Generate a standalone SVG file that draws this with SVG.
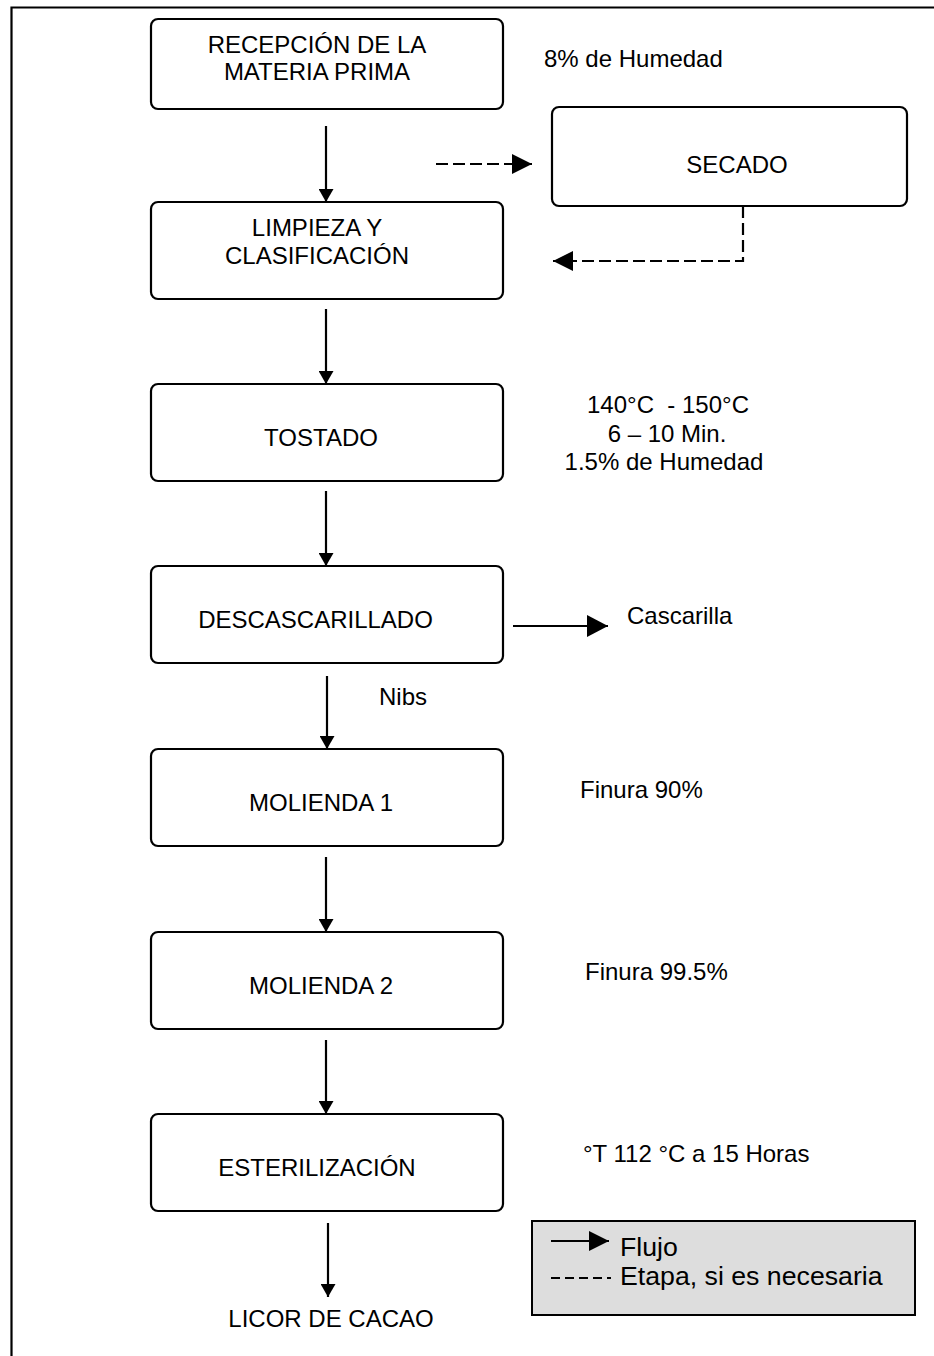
<svg xmlns="http://www.w3.org/2000/svg" width="934" height="1356" viewBox="0 0 934 1356">
<defs>
<style>
.box{fill:#fff;stroke:#000;stroke-width:2.2}
.t{font-family:"Liberation Sans",Arial,sans-serif;font-size:24px;fill:#000}
.lg{font-size:26.7px}
.c{text-anchor:middle}
.ln{stroke:#000;stroke-width:2.2;fill:none}
.dash{stroke:#000;stroke-width:2.2;fill:none;stroke-dasharray:12,5}
</style>
<marker id="ah" markerUnits="userSpaceOnUse" markerWidth="15" markerHeight="15" refX="13" refY="7.5" orient="auto">
<polygon points="0,0 13,7.5 0,15" fill="#000"/>
</marker>
<marker id="ahb" markerUnits="userSpaceOnUse" markerWidth="22" markerHeight="22" refX="21" refY="11" orient="auto">
<polygon points="0,0 21,11 0,22" fill="#000"/>
</marker>
<marker id="ahm" markerUnits="userSpaceOnUse" markerWidth="20" markerHeight="20" refX="20" refY="10" orient="auto">
<polygon points="0,0 20,10 0,20" fill="#000"/>
</marker>
</defs>
<rect x="0" y="0" width="934" height="1356" fill="#fff"/>
<path d="M11.5,1360 V7.5 H940" class="ln" stroke-width="2"/>

<g id="n-recepcion">
<rect class="box" x="151" y="19" width="352" height="90" rx="7"/>
<text class="t c" x="317" y="53">RECEPCIÓN DE LA</text>
<text class="t c" x="317" y="80">MATERIA PRIMA</text>
</g>
<g id="n-secado">
<rect class="box" x="552" y="107" width="355" height="99" rx="7"/>
<text class="t c" x="737" y="172.5">SECADO</text>
</g>
<g id="n-limpieza">
<rect class="box" x="151" y="202" width="352" height="97" rx="7"/>
<text class="t c" x="317" y="236">LIMPIEZA Y</text>
<text class="t c" x="317" y="264">CLASIFICACIÓN</text>
</g>
<g id="n-tostado">
<rect class="box" x="151" y="384" width="352" height="97" rx="7"/>
<text class="t c" x="321" y="446">TOSTADO</text>
</g>
<g id="n-descascarillado">
<rect class="box" x="151" y="566" width="352" height="97" rx="7"/>
<text class="t c" x="315.5" y="628">DESCASCARILLADO</text>
</g>
<g id="n-molienda1">
<rect class="box" x="151" y="749" width="352" height="97" rx="7"/>
<text class="t c" x="321" y="811">MOLIENDA 1</text>
</g>
<g id="n-molienda2">
<rect class="box" x="151" y="932" width="352" height="97" rx="7"/>
<text class="t c" x="321" y="994">MOLIENDA 2</text>
</g>
<g id="n-esterilizacion">
<rect class="box" x="151" y="1114" width="352" height="97" rx="7"/>
<text class="t c" x="317" y="1176">ESTERILIZACIÓN</text>
</g>
<g id="n-licor">
<text class="t c" x="331" y="1326.5">LICOR DE CACAO</text>
</g>

<g id="notes">
<text class="t" x="544" y="67">8% de Humedad</text>
<text class="t c" x="668" y="413" style="white-space:pre">140°C  - 150°C</text>
<text class="t c" x="667" y="441.5">6 – 10 Min.</text>
<text class="t c" x="664" y="470">1.5% de Humedad</text>
<text class="t" x="627" y="624">Cascarilla</text>
<text class="t" x="379" y="705">Nibs</text>
<text class="t" x="580" y="797.5">Finura 90%</text>
<text class="t" x="585" y="980">Finura 99.5%</text>
<text class="t" x="583" y="1162">°T 112 °C a 15 Horas</text>
</g>

<g id="connectors">
<line class="ln" x1="326" y1="126" x2="326" y2="202" marker-end="url(#ah)"/>
<line class="ln" x1="326" y1="309" x2="326" y2="384" marker-end="url(#ah)"/>
<line class="ln" x1="326" y1="491" x2="326" y2="566" marker-end="url(#ah)"/>
<line class="ln" x1="327" y1="676" x2="327" y2="749" marker-end="url(#ah)"/>
<line class="ln" x1="326" y1="857" x2="326" y2="932" marker-end="url(#ah)"/>
<line class="ln" x1="326" y1="1040" x2="326" y2="1114" marker-end="url(#ah)"/>
<line class="ln" x1="328" y1="1223" x2="328" y2="1297" marker-end="url(#ah)"/>
<line class="ln" x1="513" y1="626" x2="608" y2="626" marker-end="url(#ahb)"/>
<line class="dash" x1="436" y1="164" x2="532" y2="164" marker-end="url(#ahm)"/>
<polyline class="dash" points="743,206 743,261 553,261" marker-end="url(#ahm)"/>
</g>

<g id="legend">
<rect x="532" y="1221" width="383" height="94" fill="#dddddd" stroke="#000" stroke-width="2"/>
<line class="ln" x1="551" y1="1241" x2="609" y2="1241" marker-end="url(#ahm)"/>
<line x1="551" y1="1278" x2="611" y2="1278" stroke="#000" stroke-width="2.2" stroke-dasharray="9,5"/>
<text class="t lg" x="620" y="1256">Flujo</text>
<text class="t lg" x="620" y="1285">Etapa, si es necesaria</text>
</g>
</svg>
